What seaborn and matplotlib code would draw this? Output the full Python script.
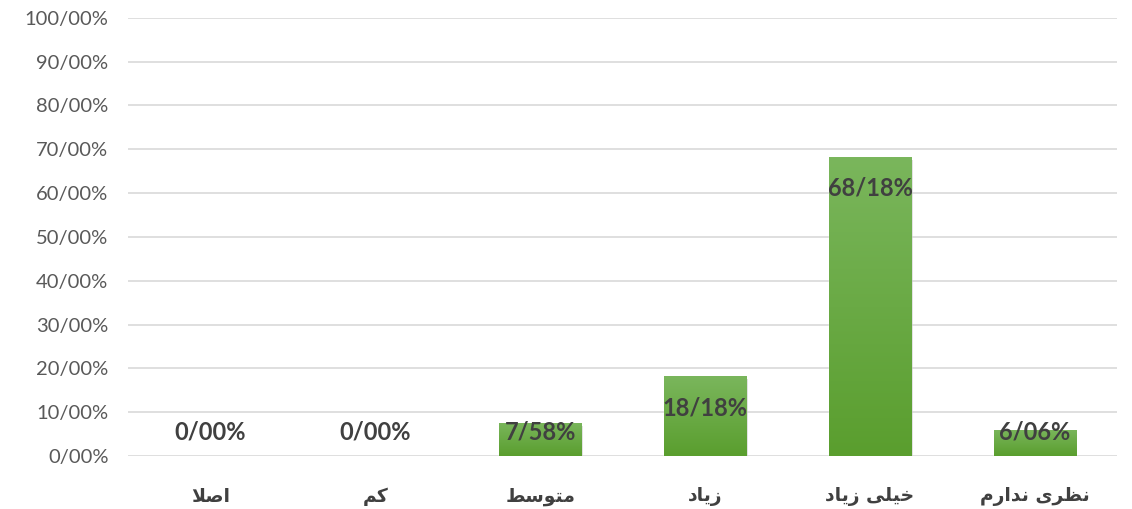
import numpy as np
import pandas as pd
import matplotlib
matplotlib.use("Agg")
import matplotlib.pyplot as plt
import matplotlib.patheffects as pe
import seaborn as sns

# Persian labels written with Arabic presentation forms in visual order
# (matplotlib has no bidi / shaping support)
categories = [
    "\uFEFC\uFEBB\uFE8D",                                   # اصلا
    "\uFEE2\uFB90",                                         # کم
    "\uFEC2\uFEB3\uFEEE\uFE98\uFEE3",                       # متوسط
    "\uFEA9\uFE8E\uFBFE\uFEAF",                             # زیاد
    "\uFEA9\uFE8E\uFBFE\uFEAF \uFBFD\uFEE0\uFBFF\uFEA7",    # خیلی زیاد
    "\uFEE1\uFEAD\uFE8D\uFEAA\uFEE7 \uFBFC\uFEAE\uFEC8\uFEE7",  # نظری ندارم
]
values = [0.00, 0.00, 7.58, 18.18, 68.18, 6.06]
value_labels = ["0/00%", "0/00%", "7/58%", "18/18%", "68/18%", "6/06%"]
ytick_vals = list(range(0, 101, 10))
ytick_labels = [f"{v}/00%" for v in ytick_vals]

df = pd.DataFrame({"cat": categories, "val": values})

sns.set_style("white")
plt.rcParams["font.family"] = ["Lato", "DejaVu Sans"]

fig = plt.figure(figsize=(11.32, 5.09), dpi=100)
ax = fig.add_axes([0.113, 0.104, 0.874, 0.861])

sns.barplot(data=df, x="cat", y="val", color="#6aac46", width=0.5, ax=ax,
            zorder=3, saturation=1)

# gradient fill + soft shadow on each bar
grad = np.linspace(0, 1, 256).reshape(-1, 1)
cmap = matplotlib.colors.LinearSegmentedColormap.from_list(
    "g", ["#5a9e2e", "#7ab65c"])
for p in ax.patches:
    h = p.get_height()
    if h <= 0:
        p.set_visible(False)
        continue
    x0 = p.get_x()
    w = p.get_width()
    p.set_path_effects([pe.SimplePatchShadow(offset=(1, -2), shadow_rgbFace="#b0b0b0", alpha=0.45),
                        pe.Normal()])
    im = ax.imshow(grad, extent=[x0, x0 + w, 0, h], origin="lower",
                   cmap=cmap, aspect="auto", zorder=3.5)
    im.set_clip_path(p)

ax.set_xlim(-0.5, len(categories) - 0.5)
ax.set_ylim(0, 100)
ax.set_yticks(ytick_vals)
ax.set_yticklabels(ytick_labels, fontsize=14.5, color="#595959")
ax.yaxis.grid(True, color="#d9d9d9", linewidth=1.2, zorder=0)
ax.tick_params(axis="y", length=0, pad=14)
ax.tick_params(axis="x", length=0, pad=22)
for lab in ax.get_xticklabels():
    lab.set_family(["DejaVu Sans"])
    lab.set_fontweight("bold")
    lab.set_fontsize(13.5)
    lab.set_color("#404040")
ax.set_xlabel("")
ax.set_ylabel("")
sns.despine(ax=ax, left=True, bottom=True)

for i, (v, t) in enumerate(zip(values, value_labels)):
    ax.text(i, max(v - 7.1, 5.5), t, ha="center", va="center",
            fontsize=17, fontweight="bold", color="#404040", zorder=5)

fig.savefig("out.png", dpi=100, facecolor="white")
